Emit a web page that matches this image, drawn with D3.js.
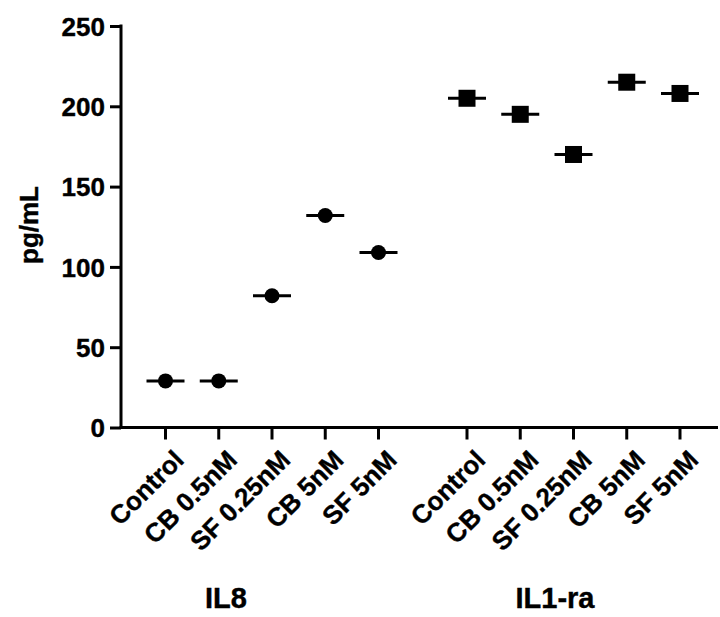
<!DOCTYPE html>
<html>
<head>
<meta charset="utf-8">
<script src="https://cdn.jsdelivr.net/npm/d3@7"></script>
<style>
  html, body { margin: 0; padding: 0; background: #fff; }
  text { font-family: "Liberation Sans", Arial, sans-serif; font-weight: bold; fill: #000; }
</style>
</head>
<body>
<svg id="chart" width="720" height="617"></svg>
<script>
// ---- data ----
const groups = ["IL8", "IL1-ra"];
const categories = ["Control", "CB 0.5nM", "SF 0.25nM", "CB 5nM", "SF 5nM"];
const il8Values = [29, 29, 82, 132, 109];
const il1raValues = [205, 195, 170, 215, 208];
const yTicks = [0, 50, 100, 150, 200, 250];
const yLabel = "pg/mL";

const series = [
  { group: groups[0], values: il8Values, shape: "circle" },
  { group: groups[1], values: il1raValues, shape: "square" }
];

// ---- layout ----
const svg = d3.select("#chart");
const axisX0 = 121, axisX1 = 718;
const y = d3.scaleLinear().domain([0, 250]).range([427.5, 26]);
const xGroup = d3.scalePoint().domain(groups).range([272, 573.5]);
const xInner = d3.scalePoint().domain(categories).range([-106.5, 106.5]);
const xPos = (g, c) => xGroup(g) + xInner(c);

// y axis
const yAxis = d3.axisLeft(y).tickValues(yTicks).tickSize(11).tickPadding(5).tickFormat(d3.format("d"));
const yg = svg.append("g").attr("transform", `translate(${axisX0},0)`).call(yAxis);
yg.select(".domain").remove();
yg.selectAll(".tick line").attr("stroke", "#000").attr("stroke-width", 3);
yg.selectAll(".tick text").style("font-size", "26px").style("font-family", "'Liberation Sans', Arial, sans-serif").style("font-weight", "bold").attr("dy", "0.36em")
  .style("stroke", "#000").style("stroke-width", "0.4px");
svg.append("line").attr("x1", axisX0).attr("x2", axisX0).attr("y1", y(250) - 1.5).attr("y2", y(0) + 1.5)
  .attr("stroke", "#000").attr("stroke-width", 3);

// x axis line
svg.append("line").attr("x1", axisX0 - 1.5).attr("x2", axisX1).attr("y1", y(0)).attr("y2", y(0))
  .attr("stroke", "#000").attr("stroke-width", 3);

// x ticks & labels
groups.forEach(g => {
  const gg = svg.append("g");
  categories.forEach(c => {
    const xp = xPos(g, c);
    gg.append("line").attr("x1", xp).attr("x2", xp).attr("y1", y(0)).attr("y2", y(0) + 12)
      .attr("stroke", "#000").attr("stroke-width", 3);
    gg.append("text")
      .attr("transform", `translate(${xp + 7},${y(0) + 21}) rotate(-45)`)
      .attr("text-anchor", "end")
      .attr("dy", "0.7em")
      .style("font-size", "26px")
      .style("stroke", "#000").style("stroke-width", "0.4px")
      .text(c);
  });
});

// group labels
const groupLabelX = { "IL8": 226, "IL1-ra": 555 };
groups.forEach(g => {
  svg.append("text").attr("x", groupLabelX[g]).attr("y", 608)
    .attr("text-anchor", "middle").style("font-size", "29px")
    .style("stroke", "#000").style("stroke-width", "0.4px").text(g);
});

// y label
svg.append("text").attr("transform", "translate(38,225) rotate(-90)")
  .attr("text-anchor", "middle").style("font-size", "26px")
  .style("stroke", "#000").style("stroke-width", "0.4px").text(yLabel);

// marks
series.forEach(s => {
  const gm = svg.append("g");
  s.values.forEach((v, i) => {
    const cx = xPos(s.group, categories[i]);
    const cy = y(v);
    gm.append("line").attr("x1", cx - 19).attr("x2", cx + 19).attr("y1", cy).attr("y2", cy)
      .attr("stroke", "#000").attr("stroke-width", 3);
    if (s.shape === "circle") {
      gm.append("circle").attr("cx", cx).attr("cy", cy).attr("r", 7.5).attr("fill", "#000");
    } else {
      gm.append("rect").attr("x", cx - 8.5).attr("y", cy - 8.5).attr("width", 17).attr("height", 17).attr("fill", "#000");
    }
  });
});
</script>
</body>
</html>
